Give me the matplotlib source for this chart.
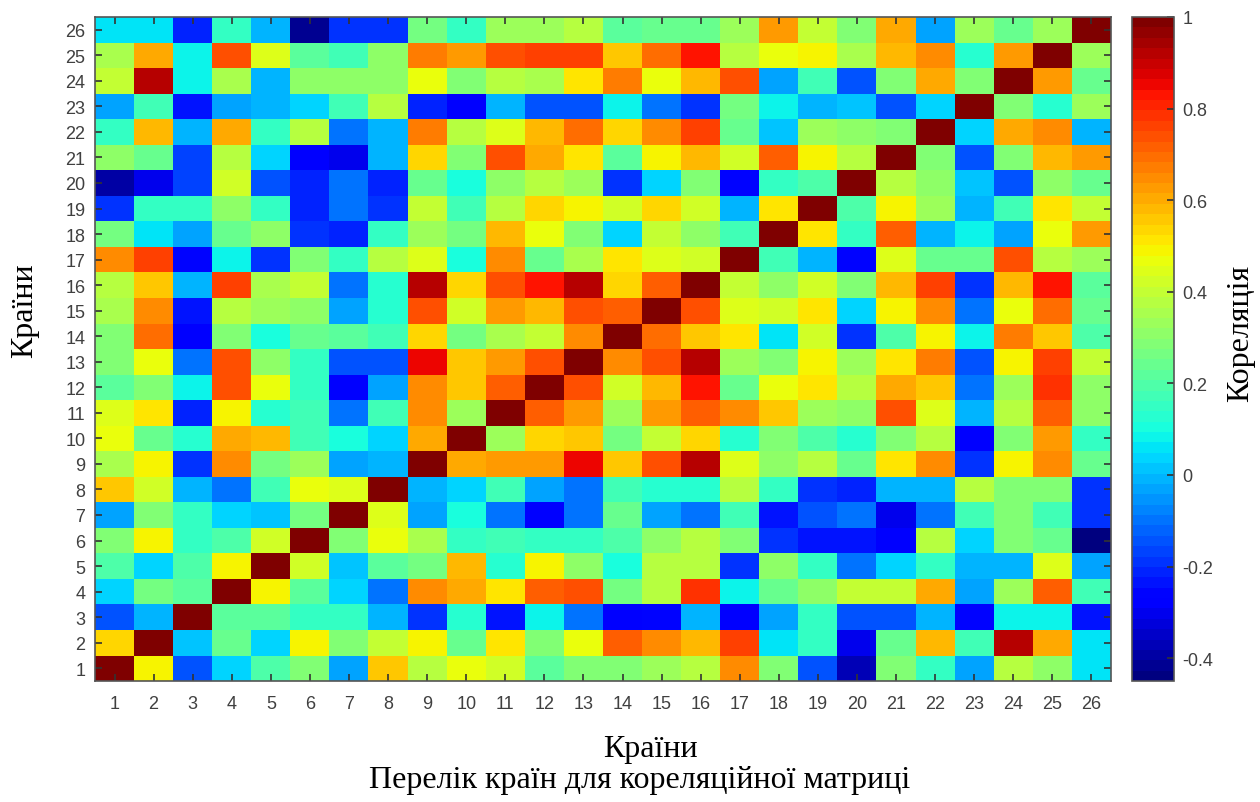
import numpy as np
import matplotlib
matplotlib.use("Agg")
from matplotlib import pyplot as plt

# correlation matrix, row k = country k, cols 1..26
r01 = [1, 0.5, -0.14, 0.04, 0.19, 0.28, -0.03, 0.55, 0.37, 0.47, 0.42, 0.21, 0.29, 0.29, 0.33, 0.37, 0.64, 0.28, -0.14, -0.36, 0.28, 0.14, -0.03, 0.38, 0.31, 0.06]
r02 = [0.53, 1, 0.02, 0.23, 0.04, 0.5, 0.29, 0.41, 0.49, 0.23, 0.52, 0.28, 0.47, 0.71, 0.64, 0.58, 0.77, 0.07, 0.16, -0.3, 0.23, 0.59, 0.18, 0.93, 0.6, 0.06]
r03 = [-0.14, 0.0, 1, 0.21, 0.21, 0.16, 0.16, -0.01, -0.19, 0.13, -0.24, 0.08, -0.11, -0.29, -0.26, 0.0, -0.28, -0.03, 0.16, -0.14, -0.14, 0.0, -0.26, 0.09, 0.09, -0.24]
r04 = [0.04, 0.26, 0.21, 1, 0.5, 0.21, 0.04, -0.09, 0.65, 0.6, 0.52, 0.71, 0.75, 0.26, 0.37, 0.78, 0.09, 0.23, 0.31, 0.41, 0.39, 0.6, -0.04, 0.34, 0.71, 0.17]
r05 = [0.19, 0.04, 0.2, 0.5, 1, 0.42, 0.02, 0.21, 0.26, 0.58, 0.13, 0.48, 0.31, 0.1, 0.37, 0.37, -0.19, 0.31, 0.16, -0.11, 0.04, 0.16, 0.0, 0.0, 0.44, -0.02]
r06 = [0.29, 0.5, 0.16, 0.19, 0.42, 1, 0.28, 0.46, 0.35, 0.16, 0.17, 0.16, 0.16, 0.2, 0.31, 0.38, 0.29, -0.2, -0.24, -0.24, -0.29, 0.38, 0.04, 0.29, 0.23, -0.44]
r07 = [-0.03, 0.29, 0.16, 0.04, 0.02, 0.26, 1, 0.44, -0.03, 0.11, -0.09, -0.28, -0.11, 0.23, -0.03, -0.09, 0.17, -0.24, -0.14, -0.11, -0.3, -0.09, 0.18, 0.29, 0.18, -0.19]
r08 = [0.56, 0.42, 0.0, -0.09, 0.18, 0.46, 0.44, 1, 0.0, 0.04, 0.18, -0.04, -0.11, 0.17, 0.12, 0.12, 0.37, 0.14, -0.19, -0.22, 0.0, 0.0, 0.38, 0.29, 0.29, -0.19]
r09 = [0.35, 0.5, -0.19, 0.65, 0.26, 0.34, -0.03, -0.01, 1, 0.6, 0.62, 0.62, 0.85, 0.56, 0.75, 0.93, 0.44, 0.31, 0.38, 0.23, 0.52, 0.65, -0.2, 0.49, 0.65, 0.23]
r10 = [0.46, 0.23, 0.13, 0.6, 0.58, 0.17, 0.11, 0.04, 0.6, 1, 0.34, 0.54, 0.56, 0.26, 0.4, 0.54, 0.12, 0.28, 0.19, 0.12, 0.28, 0.37, -0.28, 0.28, 0.62, 0.14]
r11 = [0.44, 0.52, -0.22, 0.5, 0.13, 0.18, -0.11, 0.18, 0.64, 0.34, 1, 0.71, 0.62, 0.34, 0.62, 0.71, 0.64, 0.56, 0.34, 0.3, 0.75, 0.44, 0.0, 0.38, 0.71, 0.31]
r12 = [0.21, 0.28, 0.08, 0.73, 0.47, 0.16, -0.28, -0.04, 0.65, 0.56, 0.71, 1, 0.73, 0.42, 0.58, 0.82, 0.23, 0.46, 0.52, 0.38, 0.6, 0.56, -0.11, 0.34, 0.78, 0.31]
r13 = [0.29, 0.47, -0.11, 0.75, 0.31, 0.16, -0.14, -0.14, 0.85, 0.56, 0.62, 0.73, 1, 0.64, 0.75, 0.93, 0.34, 0.28, 0.5, 0.34, 0.52, 0.67, -0.14, 0.5, 0.77, 0.4]
r14 = [0.29, 0.69, -0.29, 0.28, 0.11, 0.23, 0.21, 0.17, 0.54, 0.26, 0.35, 0.4, 0.64, 1, 0.69, 0.56, 0.52, 0.06, 0.42, -0.19, 0.19, 0.5, 0.09, 0.67, 0.56, 0.19]
r15 = [0.35, 0.64, -0.24, 0.37, 0.34, 0.31, -0.03, 0.12, 0.75, 0.42, 0.62, 0.58, 0.75, 0.71, 1, 0.73, 0.44, 0.42, 0.52, 0.04, 0.49, 0.64, -0.09, 0.46, 0.69, 0.23]
r16 = [0.37, 0.56, 0.0, 0.77, 0.35, 0.4, -0.09, 0.12, 0.93, 0.54, 0.73, 0.82, 0.93, 0.54, 0.71, 1, 0.4, 0.31, 0.42, 0.28, 0.58, 0.77, -0.19, 0.58, 0.82, 0.21]
r17 = [0.64, 0.77, -0.26, 0.08, -0.19, 0.28, 0.16, 0.37, 0.44, 0.11, 0.64, 0.23, 0.35, 0.52, 0.44, 0.42, 1, 0.17, 0.0, -0.25, 0.44, 0.23, 0.23, 0.75, 0.38, 0.34]
r18 = [0.26, 0.06, -0.04, 0.23, 0.31, -0.2, -0.22, 0.14, 0.34, 0.26, 0.58, 0.47, 0.28, 0.04, 0.4, 0.31, 0.18, 1, 0.52, 0.14, 0.71, 0.0, 0.08, -0.04, 0.46, 0.62]
r19 = [-0.19, 0.16, 0.16, 0.31, 0.16, -0.22, -0.11, -0.19, 0.4, 0.18, 0.37, 0.54, 0.5, 0.42, 0.54, 0.42, 0.0, 0.52, 1, 0.2, 0.49, 0.34, -0.01, 0.17, 0.52, 0.4]
r20 = [-0.4, -0.3, -0.17, 0.42, -0.14, -0.22, -0.09, -0.22, 0.23, 0.11, 0.31, 0.38, 0.34, -0.19, 0.04, 0.28, -0.25, 0.14, 0.2, 1, 0.38, 0.31, 0.02, -0.14, 0.31, 0.25]
r21 = [0.31, 0.23, -0.17, 0.38, 0.04, -0.28, -0.3, 0.0, 0.53, 0.28, 0.73, 0.6, 0.52, 0.21, 0.49, 0.58, 0.42, 0.71, 0.49, 0.38, 1, 0.28, -0.14, 0.28, 0.58, 0.62]
r22 = [0.16, 0.59, 0.0, 0.6, 0.16, 0.38, -0.09, 0.0, 0.67, 0.38, 0.44, 0.58, 0.69, 0.53, 0.65, 0.77, 0.23, 0.02, 0.34, 0.3, 0.28, 1, 0.04, 0.6, 0.64, -0.01]
r23 = [-0.04, 0.18, -0.24, -0.04, -0.01, 0.04, 0.18, 0.38, -0.22, -0.28, 0.0, -0.14, -0.14, 0.09, -0.09, -0.19, 0.26, 0.09, 0.0, 0.02, -0.14, 0.04, 1, 0.29, 0.12, 0.34]
r24 = [0.4, 0.93, 0.09, 0.35, 0.0, 0.31, 0.31, 0.31, 0.47, 0.28, 0.38, 0.35, 0.52, 0.67, 0.46, 0.58, 0.75, -0.04, 0.17, -0.14, 0.28, 0.6, 0.29, 1, 0.62, 0.25]
r25 = [0.35, 0.6, 0.09, 0.73, 0.44, 0.22, 0.17, 0.31, 0.67, 0.62, 0.73, 0.77, 0.77, 0.56, 0.69, 0.82, 0.38, 0.46, 0.5, 0.35, 0.58, 0.64, 0.12, 0.62, 1, 0.34]
r26 = [0.07, 0.07, -0.22, 0.15, -0.01, -0.42, -0.19, -0.19, 0.26, 0.14, 0.34, 0.34, 0.38, 0.22, 0.25, 0.23, 0.33, 0.62, 0.4, 0.28, 0.6, -0.02, 0.33, 0.25, 0.34, 1]

countries = list(range(1, 27))
cbar_ticks = [-0.4, -0.2, 0, 0.2, 0.4, 0.6, 0.8, 1]

corr = np.array([r01, r02, r03, r04, r05, r06, r07, r08, r09, r10, r11, r12, r13,
                 r14, r15, r16, r17, r18, r19, r20, r21, r22, r23, r24, r25, r26])
n = len(countries)

serif = ['Liberation Serif', 'DejaVu Serif']
sans = ['Liberation Sans', 'DejaVu Sans']
W, H = 1260, 803

fig = plt.figure(figsize=(12.6, 8.03), dpi=100)
ax = fig.add_axes([95 / W, 1 - 682 / H, 1016 / W, 664 / H])

cmap = plt.get_cmap('jet', 64)
im = ax.imshow(corr, cmap=cmap, vmin=-0.45, vmax=1, origin='lower', aspect='auto',
               interpolation='nearest', extent=[0.5, n + 0.5, 0.5, n + 0.5])

ax.set_xticks(countries)
ax.set_yticks(countries)
ax.set_xticklabels([str(c) for c in countries], family=sans, color='#404040')
ax.set_yticklabels([str(c) for c in countries], family=sans, color='#404040')
ax.tick_params(axis='both', direction='in', length=5, width=1.2, color='#333333',
               top=True, right=True, labelsize=13)
ax.tick_params(axis='x', pad=10)
ax.tick_params(axis='y', pad=7)
for sp in ax.spines.values():
    sp.set_color('#555555')
    sp.set_linewidth(1.2)

# axis titles placed by hand, like the original
fig.text(650 / W, 1 - 750 / H, 'Країни', family=serif, fontsize=23,
         ha='center', va='center')
fig.text(640 / W, 1 - 781 / H, 'Перелік країн для кореляційної матриці', family=serif,
         fontsize=23, ha='center', va='center')
fig.text(25 / W, 1 - 311 / H, 'Країни', family=serif, fontsize=23,
         ha='center', va='center', rotation=90)

# colorbar
cax = fig.add_axes([1132 / W, 1 - 682 / H, 42 / W, 664 / H])
cb = fig.colorbar(im, cax=cax, ticks=cbar_ticks)
cb.ax.set_yticklabels(['%g' % t for t in cbar_ticks], family=sans, color='#404040')
cb.ax.tick_params(direction='in', length=5, width=1.2, color='#333333',
                  labelsize=13, pad=6)
cb.outline.set_edgecolor('#555555')
cb.outline.set_linewidth(1.2)
fig.text(1241 / W, 1 - 333 / H, 'Кореляція', family=serif, fontsize=23,
         ha='center', va='center', rotation=90)

fig.savefig('out.png', dpi=100)
